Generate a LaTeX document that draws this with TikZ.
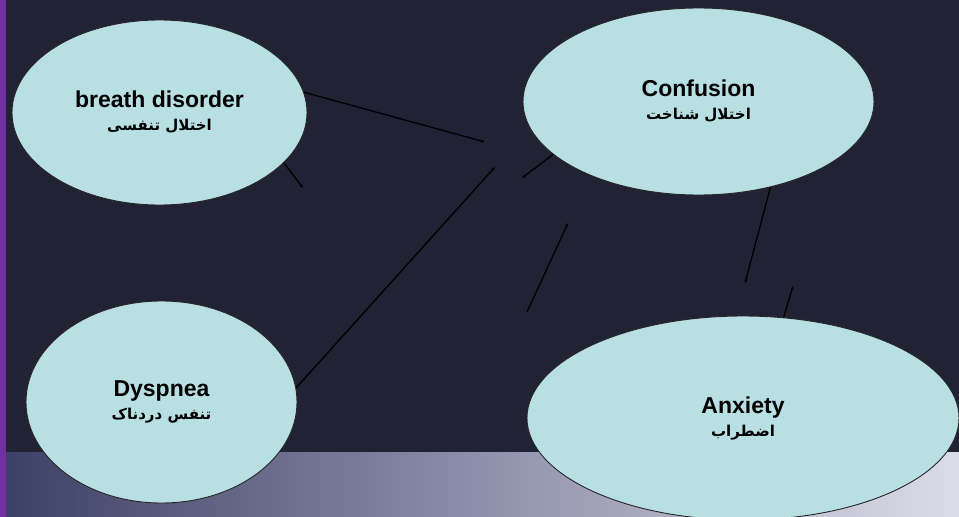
\documentclass[tikz,border=0pt]{standalone}
\usepackage{fontspec}
\setmainfont{Liberation Sans}
\newfontfamily\arabicfont[Script=Arabic]{DejaVu Sans}
\TeXXeTstate=1
\usetikzlibrary{shapes.geometric,arrows.meta}

\definecolor{fondo}{HTML}{212334}
\definecolor{celeste}{HTML}{B8E0E3}
\definecolor{morado}{HTML}{7030A0}
\definecolor{bandaA}{HTML}{3C3F66}
\definecolor{bandaB}{HTML}{8E8FAA}
\definecolor{bandaC}{HTML}{DCDCE8}

\tikzset{
  elipse/.style={ellipse, draw=black!85, line width=0.9pt, fill=celeste, inner sep=0pt, align=center,
    font=\fontsize{23}{23}\selectfont\bfseries},
  enlace/.style={line width=1.3pt, black, -{Stealth[length=4pt,width=3pt]}},
}
\newcommand{\farsi}{\arabicfont\fontsize{15}{18}\selectfont\bfseries}

\begin{document}
\begin{tikzpicture}[x=1pt,y=-1pt]

    \useasboundingbox (0,0) rectangle (959,517);

    %Fondo
    \fill[fondo] (0,0) rectangle (959,517);
    \shade[left color=bandaA, right color=bandaC, middle color=bandaB] (0,452) rectangle (959,517);
    \fill[morado] (0,0) rectangle (6,517);

    %Elipses
    \node[elipse, minimum width=295, minimum height=185] (respira) at (159.5,112.5) {breath disorder\\{\farsi\beginR اختلال تنفسی\endR}};
    \node[elipse, minimum width=351, minimum height=187] (confu) at (698.5,101.5) {Confusion\\{\farsi\beginR اختلال شناخت\endR}};
    \node[elipse, minimum width=271, minimum height=202] (disnea) at (161.5,402) {Dyspnea\\{\farsi\beginR تنفس دردناک\endR}};
    \node[elipse, minimum width=432, minimum height=204] (ansie) at (743,418) {Anxiety\\{\farsi\beginR اضطراب\endR}};

    %Lineas
    \coordinate (p1) at (485,142);
    \coordinate (p2) at (303,188);
    \coordinate (p3) at (495,167);
    \coordinate (p4) at (522,178);
    \coordinate (q5) at (527,312);
    \coordinate (p5) at (568,223);
    \coordinate (p6) at (745,283);
    \coordinate (p7) at (793,286);

    \draw[enlace] (respira.8) -- (p1);
    \draw[enlace] (respira.-22) -- (p2);
    \draw[enlace] (disnea.6) -- (p3);
    \draw[enlace] (confu.200) -- (p4);
    \draw[enlace] (q5) -- (p5);
    \draw[enlace] (confu.-50) -- (p6);
    \draw[enlace] (ansie.68) -- (p7);

\end{tikzpicture}
\end{document}
